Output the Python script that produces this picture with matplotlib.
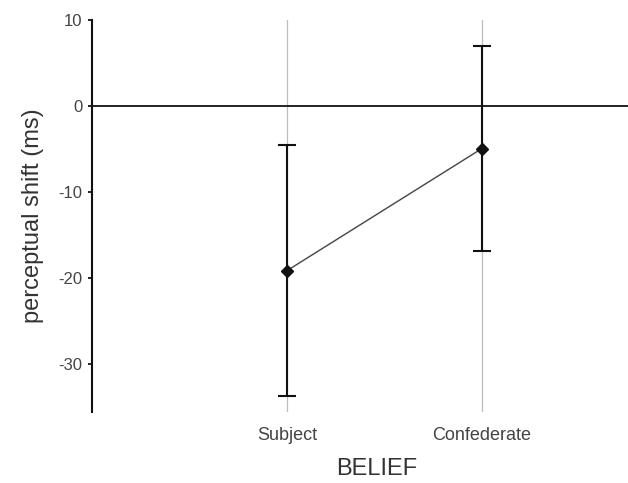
import matplotlib
matplotlib.use("Agg")
import matplotlib.pyplot as plt

plt.rcParams['font.family'] = ['Liberation Sans', 'DejaVu Sans']
plt.rcParams['axes.unicode_minus'] = False

# mean perceptual shift per belief condition, with error half-widths
conditions = ["Subject", "Confederate"]
means = [-19.1, -4.9]
errors = [14.6, 11.9]
yticks = [10, 0, -10, -20, -30]

fig = plt.figure(figsize=(6.28, 4.83), dpi=100)
ax = fig.add_axes([0.1465, 0.1476, 0.8535, 0.81])

xs = [1, 2]
for x in xs:
    ax.axvline(x, color="#bdbdbd", lw=0.9, zorder=0)
ax.axhline(0, color="#222222", lw=1.4, zorder=1)

ax.errorbar(xs, means, yerr=errors, fmt="none", ecolor="#111111",
            elinewidth=1.5, capsize=6.5, capthick=1.5, zorder=2)
ax.plot(xs, means, color="#444444", lw=1.0, zorder=3)
ax.plot(xs, means, "D", color="#111111", ms=6.5, zorder=4)

ax.set_xlim(0, 2.75)
ax.set_ylim(-35.5, 10)
ax.set_yticks(yticks)
ax.set_xticks(xs)
ax.set_xticklabels(conditions)

for s in ["top", "right", "bottom"]:
    ax.spines[s].set_visible(False)
ax.spines["left"].set_linewidth(1.5)
ax.spines["left"].set_color("#111111")

ax.tick_params(axis="y", direction="out", length=3, width=1.2,
               labelsize=12, labelcolor="#444444", pad=4)
ax.tick_params(axis="x", length=0, labelsize=13, labelcolor="#444444", pad=11)

ax.set_ylabel("perceptual shift (ms)", fontsize=17, color="#333333", labelpad=10)
ax.set_xlabel("BELIEF", fontsize=17, color="#333333")
ax.xaxis.set_label_coords(0.532, -0.118)

fig.savefig("out.png", dpi=100)
